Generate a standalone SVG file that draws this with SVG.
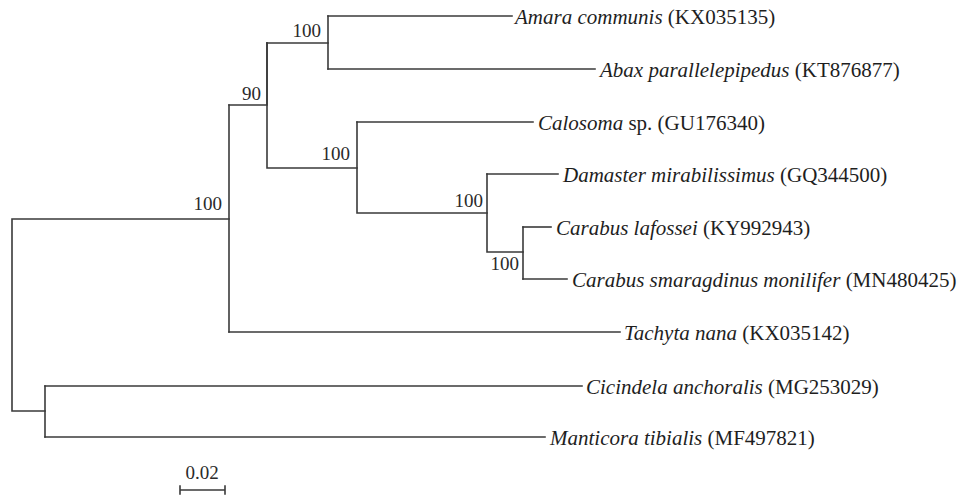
<svg xmlns="http://www.w3.org/2000/svg" width="960" height="496" viewBox="0 0 960 496">
<style>
.br{fill:none;stroke:#3a3a3a;stroke-width:1.6;stroke-linecap:square}
.lf{font-family:"Liberation Serif","Times New Roman",serif;font-size:21px;fill:#1e1e1e}
.it{font-style:italic}
.bs{font-family:"Liberation Serif","Times New Roman",serif;font-size:19px;fill:#2a2a2a;text-anchor:end}
.sc{font-family:"Liberation Serif","Times New Roman",serif;font-size:19px;fill:#2a2a2a;text-anchor:middle}
</style>
<rect width="960" height="496" fill="#ffffff"/>
<g id="connectors">
<path class="br" d="M229,219 H12 V411 H45"/>
<path class="br" d="M45,386 V437"/>
<path class="br" d="M229,105 V332"/>
<path class="br" d="M229,105 H267 V43"/>
<path class="br" d="M267,43 V168 H357"/>
<path class="br" d="M267,43 H328"/>
<path class="br" d="M328,16 V69"/>
<path class="br" d="M357,122 V213 H487"/>
<path class="br" d="M487,174 V252 H523"/>
<path class="br" d="M523,227 V279"/>
<path class="br" d="M328,16 H512"/>
<path class="br" d="M328,69 H595"/>
<path class="br" d="M357,122 H533"/>
<path class="br" d="M487,174 H558"/>
<path class="br" d="M523,227 H551"/>
<path class="br" d="M523,279 H567"/>
<path class="br" d="M229,332 H620"/>
<path class="br" d="M45,386 H582"/>
<path class="br" d="M45,437 H545"/>
</g>
<g id="bootstrap">
<text class="bs" x="222" y="210">100</text>
<text class="bs" x="261" y="100">90</text>
<text class="bs" x="321" y="37">100</text>
<text class="bs" x="350" y="160">100</text>
<text class="bs" x="483" y="207">100</text>
<text class="bs" x="519" y="270">100</text>
</g>
<g id="leaf-amara"><text class="lf" x="515" y="24"><tspan class="it">Amara communis</tspan> (KX035135)</text></g>
<g id="leaf-abax"><text class="lf" x="600" y="77"><tspan class="it">Abax parallelepipedus</tspan> (KT876877)</text></g>
<g id="leaf-calosoma"><text class="lf" x="538" y="130"><tspan class="it">Calosoma</tspan> sp. (GU176340)</text></g>
<g id="leaf-damaster"><text class="lf" x="563" y="182"><tspan class="it">Damaster mirabilissimus</tspan> (GQ344500)</text></g>
<g id="leaf-lafossei"><text class="lf" x="556" y="235"><tspan class="it">Carabus lafossei</tspan> (KY992943)</text></g>
<g id="leaf-smaragdinus"><text class="lf" x="572" y="287"><tspan class="it">Carabus smaragdinus monilifer</tspan> (MN480425)</text></g>
<g id="leaf-tachyta"><text class="lf" x="624" y="340"><tspan class="it">Tachyta nana</tspan> (KX035142)</text></g>
<g id="leaf-cicindela"><text class="lf" x="586" y="394"><tspan class="it">Cicindela anchoralis</tspan> (MG253029)</text></g>
<g id="leaf-manticora"><text class="lf" x="550" y="445"><tspan class="it">Manticora tibialis</tspan> (MF497821)</text></g>
<g id="scale">
<path class="br" d="M180,490 H225 M180,486 V494 M225,486 V494"/>
<text class="sc" x="202" y="479">0.02</text>
</g>
</svg>
